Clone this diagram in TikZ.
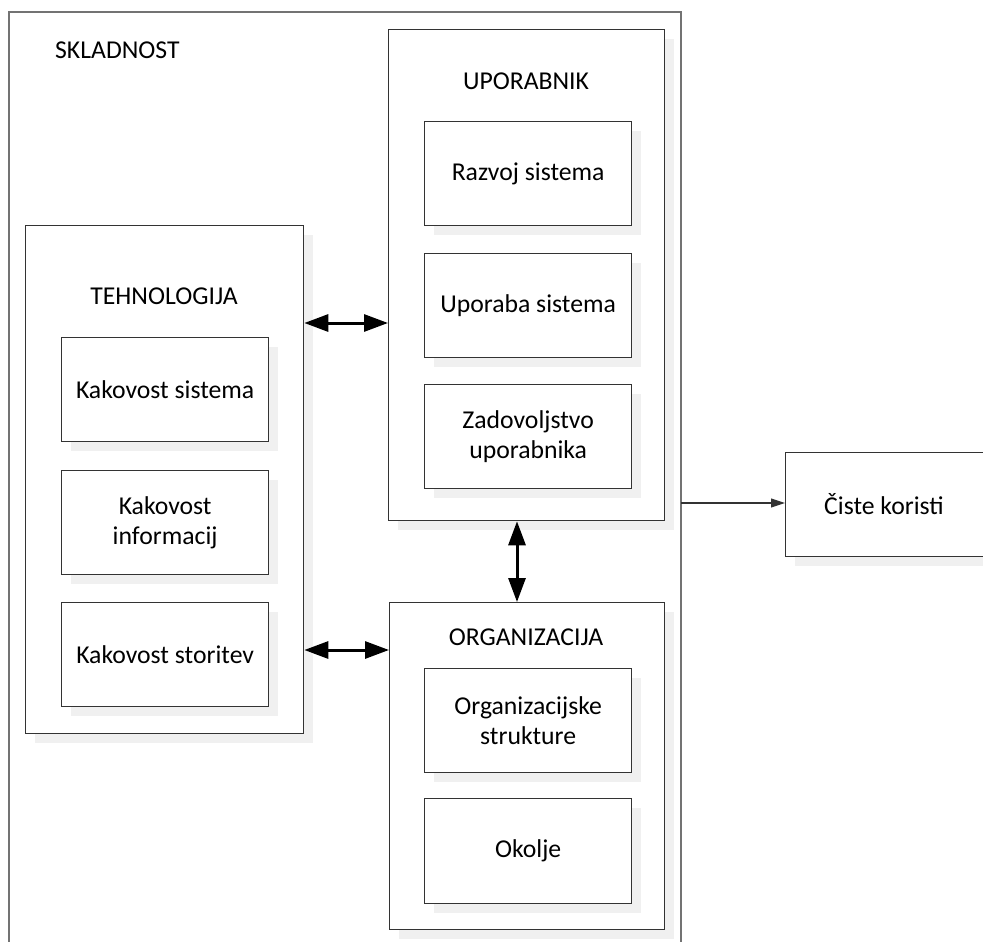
\documentclass[tikz,border=0pt]{standalone}
\usepackage{fontspec}
\setmainfont{Carlito}
\usetikzlibrary{shadows,arrows.meta}
\tikzset{
  box/.style={draw=black!80, line width=1.3pt, fill=white, rectangle, anchor=north west,
    align=center, inner sep=0pt,
    drop shadow={shadow xshift=9pt, shadow yshift=-9pt, fill=black!6, opacity=1}},
  lbl/.style={font=\fontsize{25.7}{30}\selectfont, align=center, inner sep=0pt},
  biarrow/.style={line width=3pt, {Triangle[length=24pt,width=17pt]}-{Triangle[length=24pt,width=17pt]}},
  thinarrow/.style={draw=black!80, line width=1.1pt, -{Triangle[length=14pt,width=9pt]}},
}
\begin{document}
\begin{tikzpicture}[x=1pt,y=-1pt]
\useasboundingbox (0,0) rectangle (983,942);
% outer frame, open at the bottom
\draw[draw=black!55, line width=1.6pt] (9,960) -- (9,12) -- (681,12) -- (681,960);
\node[lbl, anchor=west] (skladnost) at (55,50) {SKLADNOST};

% technology group
\node[box, minimum width=278pt, minimum height=508pt] (teh) at (25,225) {};
\node[lbl] (tehlbl) at (164,296) {TEHNOLOGIJA};
\node[box, minimum width=207pt, minimum height=104pt] (ks) at (61,337) {};
\node[lbl] at (ks.center) {Kakovost sistema};
\node[box, minimum width=207pt, minimum height=104pt] (ki) at (61,470) {};
\node[lbl] at (ki.center) {Kakovost\\informacij};
\node[box, minimum width=207pt, minimum height=104pt] (kst) at (61,602) {};
\node[lbl] at (kst.center) {Kakovost storitev};

% user group
\node[box, minimum width=276pt, minimum height=491pt] (upo) at (388,29) {};
\node[lbl] (upolbl) at (526,81) {UPORABNIK};
\node[box, minimum width=207pt, minimum height=104pt] (rs) at (424,121) {};
\node[lbl] at (rs.center) {Razvoj sistema};
\node[box, minimum width=207pt, minimum height=104pt] (us) at (424,253) {};
\node[lbl] at (us.center) {Uporaba sistema};
\node[box, minimum width=207pt, minimum height=104pt] (zu) at (424,384) {};
\node[lbl] at (zu.center) {Zadovoljstvo\\uporabnika};

% organisation group
\node[box, minimum width=275pt, minimum height=327pt] (org) at (389,602) {};
\node[lbl] (orglbl) at (526,637) {ORGANIZACIJA};
\node[box, minimum width=207pt, minimum height=104pt] (os) at (424,668) {};
\node[lbl] at (os.center) {Organizacijske\\strukture};
\node[box, minimum width=207pt, minimum height=105pt] (ok) at (424,798) {};
\node[lbl] at (ok.center) {Okolje};

% net benefits
\node[box, minimum width=220pt, minimum height=104pt] (ck) at (785,452) {};
\node[lbl] at (884,504) {Čiste koristi};

% connectors
\coordinate (outr) at (681,503);
\draw[biarrow] (teh.east |- 0,323) -- (upo.west |- 0,323);
\draw[biarrow] (teh.east |- 0,650) -- (org.west |- 0,650);
\draw[biarrow] (upo.south -| 517,0) -- (org.north -| 517,0);
\draw[thinarrow] (outr) -- (ck.west |- outr);
\end{tikzpicture}
\end{document}
